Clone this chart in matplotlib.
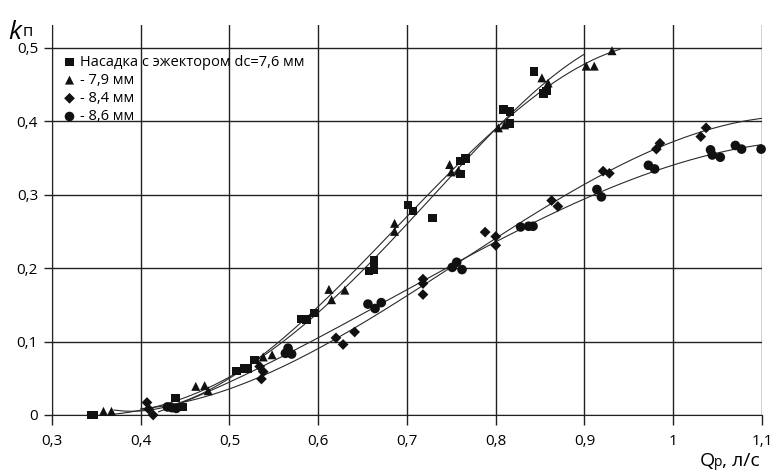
import numpy as np
import matplotlib
matplotlib.use("Agg")
import matplotlib.pyplot as plt
from matplotlib.ticker import FuncFormatter

plt.rcParams['font.family'] = ['Open Sans', 'DejaVu Sans']

# data
sq_x = [0.344, 0.347, 0.439, 0.447, 0.508, 0.517, 0.521, 0.528, 0.581, 0.587, 0.596, 0.657, 0.663, 0.663,
        0.701, 0.707, 0.729, 0.760, 0.760, 0.766, 0.809, 0.816, 0.816, 0.843, 0.854, 0.857]
sq_y = [0.0, 0.0, 0.023, 0.011, 0.060, 0.063, 0.063, 0.075, 0.131, 0.130, 0.139, 0.196, 0.198, 0.210,
        0.286, 0.278, 0.268, 0.346, 0.328, 0.349, 0.416, 0.413, 0.397, 0.468, 0.438, 0.441]

tri_x = [0.358, 0.367, 0.462, 0.472, 0.476, 0.538, 0.548, 0.612, 0.615, 0.630, 0.686, 0.686,
         0.748, 0.750, 0.758, 0.803, 0.810, 0.852, 0.859, 0.902, 0.911, 0.931]
tri_y = [0.005, 0.005, 0.039, 0.040, 0.033, 0.079, 0.082, 0.171, 0.157, 0.170, 0.261, 0.250,
         0.341, 0.331, 0.333, 0.391, 0.395, 0.459, 0.452, 0.475, 0.475, 0.496]

dia_x = [0.407, 0.409, 0.414, 0.534, 0.536, 0.538, 0.620, 0.628, 0.641, 0.718, 0.718, 0.718,
         0.788, 0.800, 0.800, 0.863, 0.870, 0.921, 0.928, 0.981, 0.985, 1.031, 1.037]
dia_y = [0.017, 0.008, 0.0, 0.066, 0.049, 0.059, 0.105, 0.096, 0.113, 0.185, 0.179, 0.164,
         0.249, 0.243, 0.231, 0.292, 0.284, 0.332, 0.329, 0.362, 0.370, 0.379, 0.391]

circ_x = [0.430, 0.435, 0.440, 0.563, 0.566, 0.570, 0.656, 0.664, 0.671, 0.751, 0.756, 0.762,
          0.828, 0.837, 0.842, 0.914, 0.919, 0.972, 0.979, 1.042, 1.044, 1.053, 1.070, 1.077, 1.099]
circ_y = [0.011, 0.010, 0.009, 0.084, 0.091, 0.083, 0.151, 0.145, 0.153, 0.201, 0.208, 0.198,
          0.256, 0.257, 0.257, 0.307, 0.297, 0.340, 0.335, 0.361, 0.354, 0.351, 0.367, 0.362, 0.362]

labels = ['Насадка с эжектором dc=7,6 мм', '- 7,9 мм', '- 8,4 мм', '- 8,6 мм']
trend_from = [0.37, 0.37, 0.40, 0.42]
trend_to = [0.90, 0.94, 1.10, 1.10]
trend_deg = [4, 3, 3, 3]

series = [(sq_x, sq_y, 's', 38), (tri_x, tri_y, '^', 42), (dia_x, dia_y, 'D', 30), (circ_x, circ_y, 'o', 48)]

fig = plt.figure(figsize=(7.84, 4.70), dpi=100)
ax = fig.add_axes([52 / 784, 55 / 470, 710 / 784, 390 / 470])

for i, (xs, ys, m, s) in enumerate(series):
    # polynomial trend line like in Excel
    coef = np.polyfit(xs, ys, trend_deg[i])
    xx = np.linspace(trend_from[i], trend_to[i], 200)
    ax.plot(xx, np.polyval(coef, xx), color='#2a2a2a', lw=0.8, zorder=3)
    ax.scatter(xs, ys, marker=m, s=s, color='#111111', edgecolors='none', label=labels[i],
               zorder=4, clip_on=False)

ax.set_xlim(0.3, 1.1)
ax.set_ylim(0, 0.531)
ax.set_xticks(np.arange(0.3, 1.11, 0.1))
ax.set_yticks(np.arange(0, 0.51, 0.1))

fmt = FuncFormatter(lambda v, p: ('%g' % round(v, 2)).replace('.', ','))
ax.xaxis.set_major_formatter(fmt)
ax.yaxis.set_major_formatter(fmt)

ax.grid(True, color='#222222', lw=1.0)
ax.set_axisbelow(True)
for sp in ['top', 'right']:
    ax.spines[sp].set_visible(False)
for sp in ['left', 'bottom']:
    ax.spines[sp].set_color('#222222')
ax.tick_params(axis='x', length=7, width=1, color='#222222', pad=7, labelsize=11)
ax.tick_params(axis='y', length=6, width=1, color='#222222', pad=4, labelsize=11)

leg = ax.legend(loc='upper left', bbox_to_anchor=(0.0, 0.95), frameon=False, fontsize=10.5,
                handletextpad=0.2, labelspacing=0.22, borderaxespad=0.3, handlelength=1.0)

fig.text(8 / 784, 1 - 39 / 470, 'k', fontsize=19, style='italic')
fig.text(23 / 784, 1 - 36 / 470, 'п', fontsize=12)
fig.text(700 / 784, 1 - 466 / 470, 'Q', fontsize=14)
fig.text(714 / 784, 1 - 466 / 470, 'р', fontsize=10)
fig.text(722 / 784, 1 - 466 / 470, ', л/с', fontsize=14)

fig.savefig('out.png', dpi=100)
